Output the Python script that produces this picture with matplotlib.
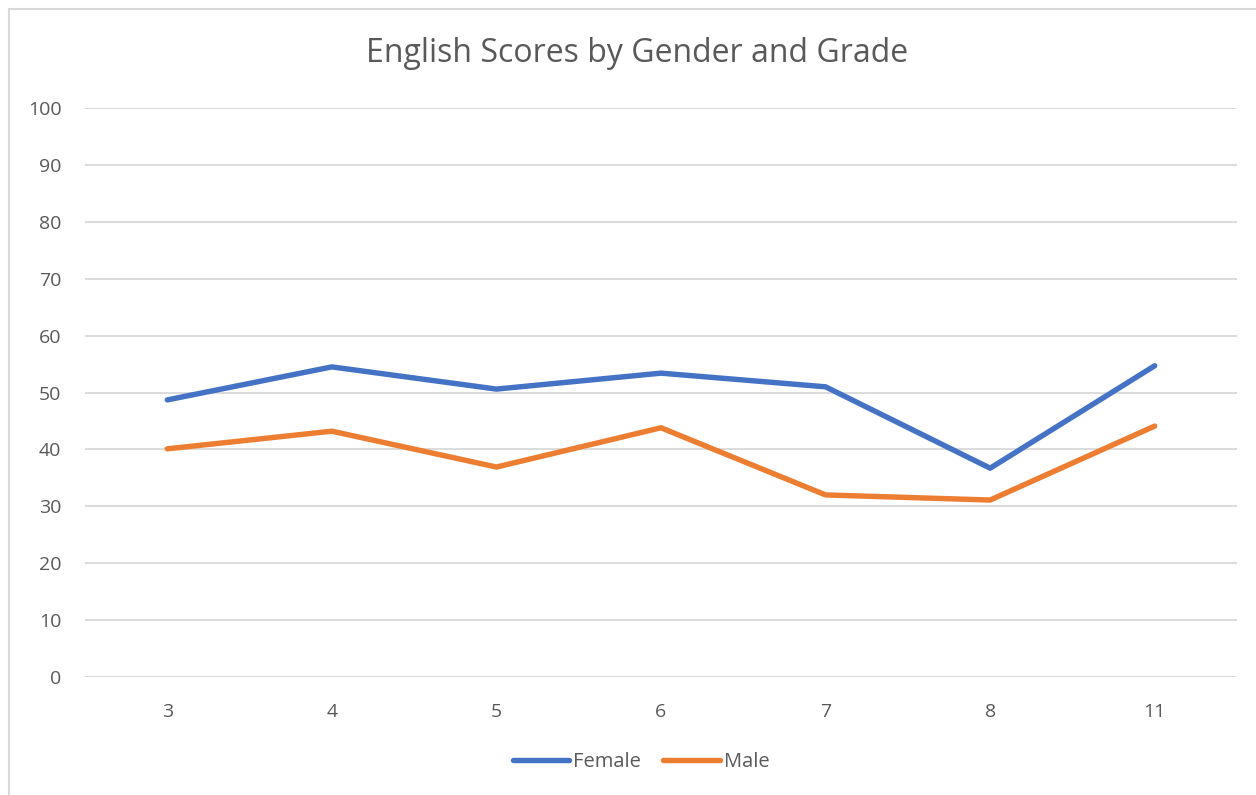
import matplotlib
matplotlib.use("Agg")
import matplotlib.pyplot as plt
from matplotlib.lines import Line2D

plt.rcParams['font.family'] = ['Open Sans', 'DejaVu Sans']

grades = ["3", "4", "5", "6", "7", "8", "11"]
female = [48.7, 54.5, 50.6, 53.4, 51.0, 36.7, 54.7]
male = [40.1, 43.2, 36.9, 43.8, 32.0, 31.1, 44.1]
yticks = [0, 10, 20, 30, 40, 50, 60, 70, 80, 90, 100]

W, H = 1256, 795
fig = plt.figure(figsize=(W / 100, H / 100), dpi=100)
ax = fig.add_axes([85 / W, 1 - 677 / H, (1237 - 85) / W, (677 - 108) / H])

text_color = "#595959"
x = list(range(len(grades)))
ax.plot(x, female, color="#4472C4", lw=3.9, solid_capstyle="round", solid_joinstyle="round", label="Female", zorder=3)
ax.plot(x, male, color="#ED7D31", lw=3.9, solid_capstyle="round", solid_joinstyle="round", label="Male", zorder=3)

ax.set_xlim(-0.5, len(grades) - 0.5)
ax.set_ylim(0, 100)
ax.set_xticks(x)
ax.set_xticklabels(grades)
ax.set_yticks(yticks)
ax.grid(axis="y", color="#D9D9D9", lw=1.3)
ax.set_axisbelow(True)
for s in ["top", "right", "left", "bottom"]:
    ax.spines[s].set_visible(False)
ax.tick_params(axis="both", length=0, labelsize=14, colors=text_color)
ax.tick_params(axis="x", pad=19)
ax.tick_params(axis="y", pad=17)

fig.text(637.5 / W, 1 - 54 / H, "English Scores by Gender and Grade", ha="center", va="center",
         fontsize=23, color=text_color)

handles = [Line2D([0], [0], color="#4472C4", lw=3.9, solid_capstyle="round"),
           Line2D([0], [0], color="#ED7D31", lw=3.9, solid_capstyle="round")]
fig.legend(handles, ["Female", "Male"], loc="center", bbox_to_anchor=(641 / W, 1 - 762 / H),
           ncol=2, frameon=False, fontsize=14.5, labelcolor=text_color,
           handlelength=2.8, handletextpad=0.2, columnspacing=1.1)

fig.add_artist(Line2D([8.5 / W, 1.0], [1 - 8.5 / H, 1 - 8.5 / H], color="#D9D9D9", lw=1.5))
fig.add_artist(Line2D([8.5 / W, 8.5 / W], [0, 1 - 8.5 / H], color="#D9D9D9", lw=1.5))

fig.savefig("out.png", dpi=100, facecolor="white")
